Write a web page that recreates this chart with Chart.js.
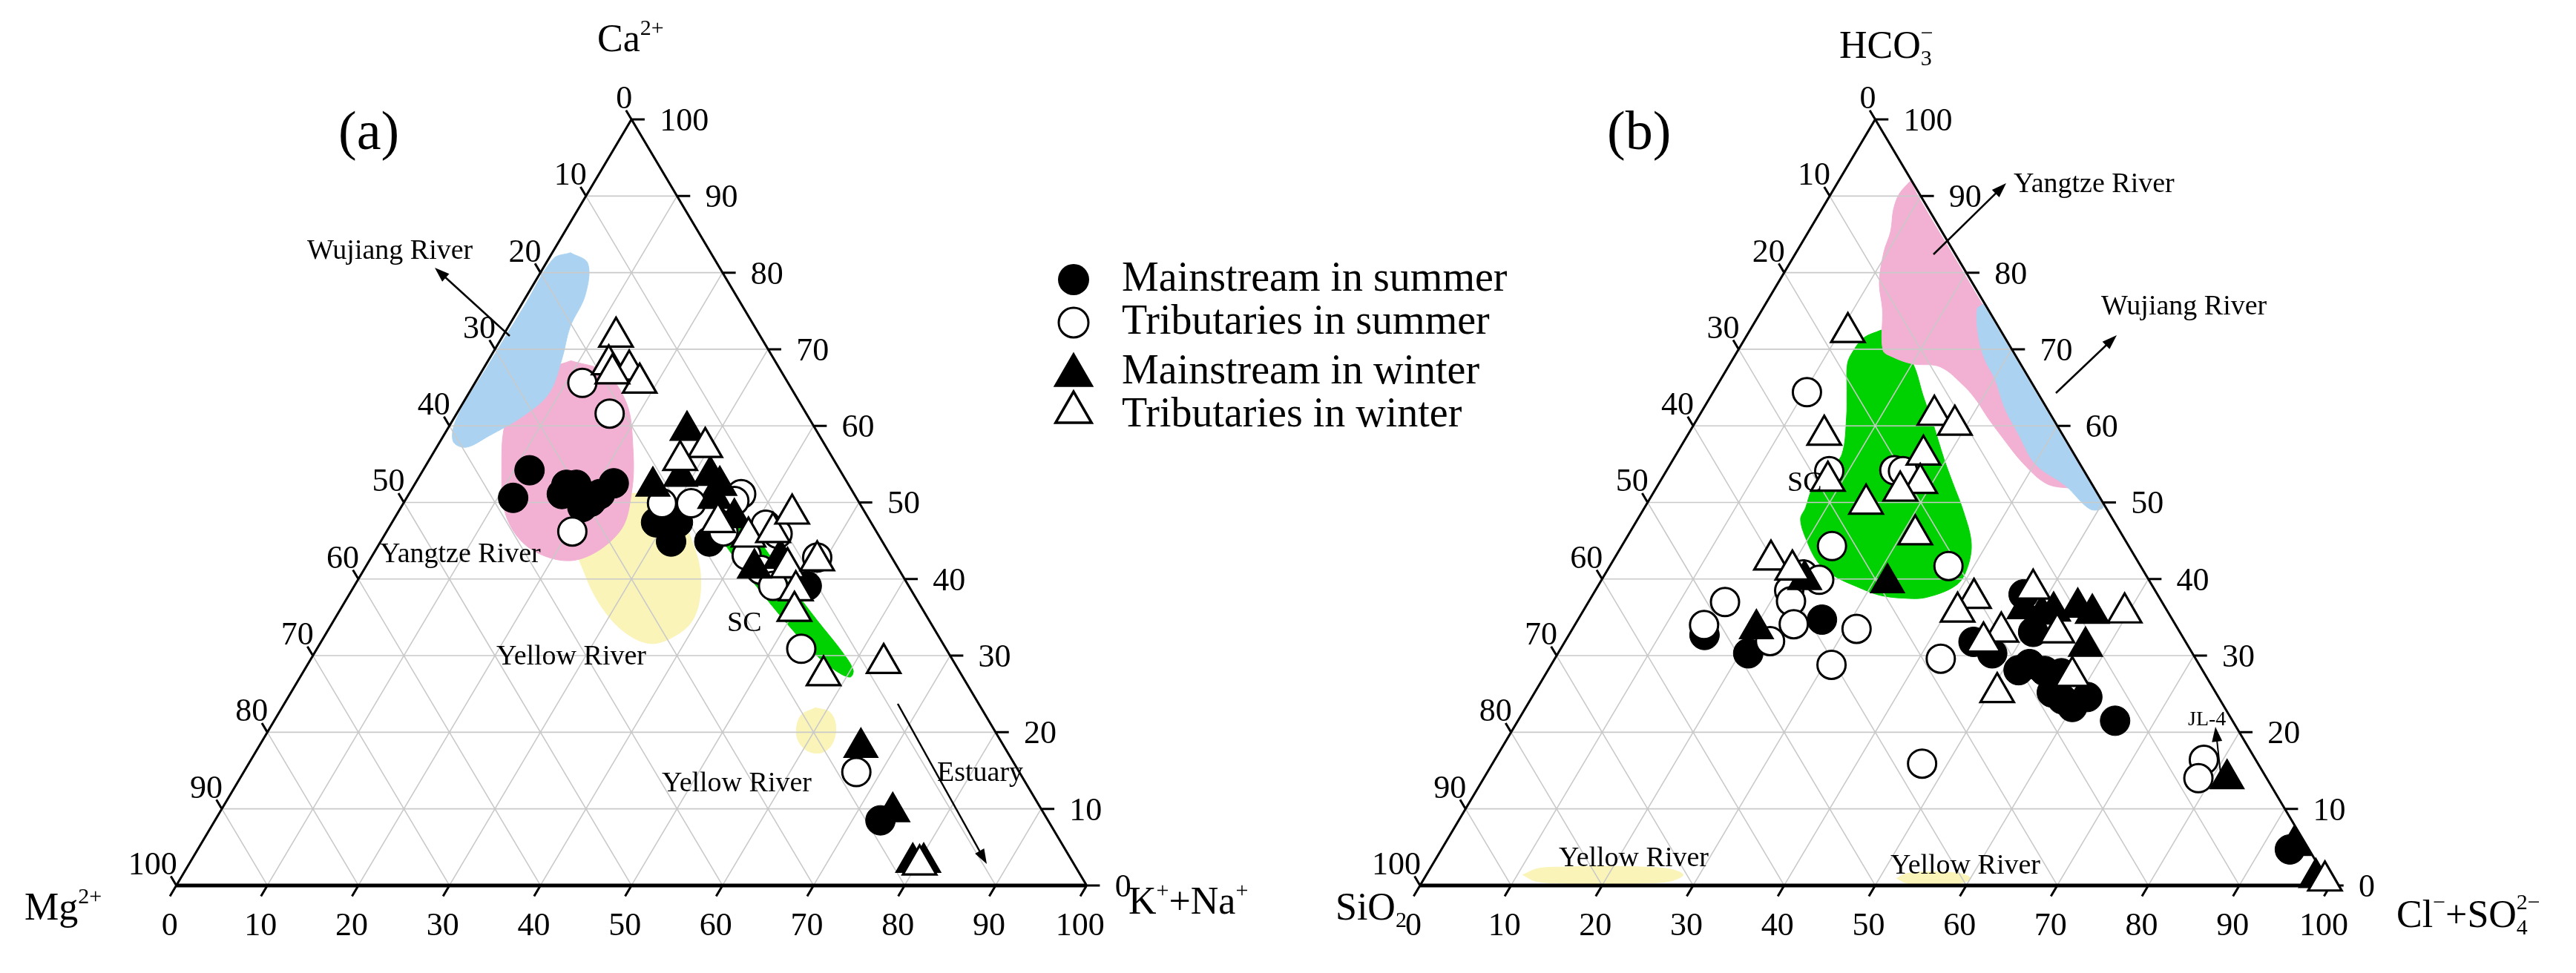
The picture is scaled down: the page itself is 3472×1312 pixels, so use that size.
<!DOCTYPE html>
<html><head><meta charset="utf-8">
<script src="https://cdn.jsdelivr.net/npm/chart.js@4.4.1/dist/chart.umd.min.js"></script>
<style>html,body{margin:0;padding:0;background:#fff;}canvas{display:block;}</style>
</head><body>
<canvas id="c" width="3472" height="1312"></canvas>
<script>
// ---------- DATA (ternary percentages) ----------
// Panel (a): [K+Na %, Ca %]  (Mg % = 100 - both)
const aMainSummer = [[11.7,54.2],[11.7,50.6],[16.7,52.3],[17.8,52.3],[16.8,51.1],[19.9,49.4],[20.7,50.8],[21.8,52.5],[21.0,51.1],[20.5,50.1],[29.0,47.4],[31.4,47.4],[31.9,44.9],[36.1,44.9],[49.7,39.1],[73.1,8.5]];
const aTribSummer = [[11.8,65.6],[16.8,61.6],[20.4,46.2],[28.4,49.9],[31.6,49.9],[36.5,51.1],[36.2,50.2],[37.0,46.2],[41.2,47.1],[43.1,45.9],[41.1,43.1],[43.6,41.2],[46.0,39.1],[49.0,42.8],[53.2,30.9],[67.3,14.8]];
const aMainWinter = [[26.4,59.4],[26.3,52.1],[28.7,53.4],[31.9,53.5],[33.6,52.2],[33.9,50.5],[37.3,48.0],[42.8,41.4],[45.0,42.7],[66.2,18.0],[73.9,9.6],[79.4,3.0],[80.6,3.0]];
const aTribWinter = [[12.5,71.6],[13.5,68.0],[16.1,67.3],[18.1,65.6],[14.5,66.8],[29.5,57.2],[27.6,55.5],[35.8,47.4],[40.1,45.5],[42.5,46.1],[43.4,48.5],[46.4,41.5],[49.2,42.4],[48.8,38.5],[50.0,35.8],[57.4,27.4],[63.2,29.0],[80.3,2.7]];
// Panel (b): [Cl+SO4 %, HCO3 %]  (SiO2 % = 100 - both)
const bMainSummer = [[14.9,32.7],[20.9,30.3],[26.8,34.7],[47.3,38.0],[50.8,33.1],[44.9,31.8],[47.7,30.3],[51.7,28.1],[52.5,28.9],[54.6,28.0],[56.6,27.7],[56.8,25.2],[58.4,24.3],[60.0,23.3],[61.0,24.6],[65.6,21.5],[93.2,4.7]];
const bTribSummer = [[10.3,64.4],[17.9,54.1],[25.0,54.2],[26.0,54.1],[23.1,44.3],[37.2,41.7],[21.8,40.6],[23.9,39.9],[21.3,38.5],[22.2,37.1],[15.0,37.0],[14.2,34.0],[22.5,31.9],[24.0,34.1],[31.2,33.5],[30.8,28.8],[42.4,29.6],[47.2,15.9],[77.9,16.4],[78.5,14.0]];
const bMainWinter = [[31.6,39.5],[22.3,39.9],[20.2,33.5],[48.3,36.1],[50.6,35.4],[51.7,35.8],[54.1,36.3],[56.1,35.5],[57.5,31.2],[81.7,13.9],[93.4,5.2],[97.9,1.0]];
const bTribWinter = [[10.9,72.2],[15.0,58.8],[18.4,52.8],[25.8,61.4],[28.7,60.1],[27.2,56.2],[28.7,52.5],[27.0,51.5],[24.1,49.8],[31.5,45.8],[17.3,42.5],[20.3,41.2],[42.1,37.5],[41.2,35.7],[48.0,38.7],[59.6,35.6],[53.5,33.0],[47.3,33.1],[46.0,31.8],[58.0,27.3],[50.8,25.2],[99.1,0.6]];

// Reference-field outlines (same ternary units)
const aWujiang = [[2.0,82.6],[4.6,81.2],[6.4,77.0],[6.8,72.9],[8.0,68.7],[8.8,64.2],[7.4,61.2],[5.0,58.7],[3.2,57.2],[1.4,58.0],[0.3,61.0],[0.3,67.9],[0.4,75.8],[0.5,81.8]];
const aYangtze = [[9.1,68.5],[13.6,67.0],[18.1,62.8],[21.5,57.3],[24.2,51.7],[25.6,46.2],[22.7,42.5],[17.2,43.8],[12.3,48.0],[8.5,54.5],[5.8,61.0],[5.9,66.5]];
const aYellow1 = [[21.9,48.9],[24.7,51.2],[30.3,48.9],[35.4,43.4],[38.2,38.8],[39.4,34.6],[38.2,32.3],[36.1,31.6],[32.5,33.2],[28.5,36.4],[24.6,40.6],[21.3,45.2]];
const aYellow2 = [[58.6,23.2],[60.5,22.6],[62.1,20.7],[62.8,18.4],[62.1,17.3],[60.3,17.7],[58.4,19.5],[57.5,22.1]];
const aSC = [[34.7,48.9],[36.7,48.9],[41.3,45.2],[47.3,39.7],[53.1,34.6],[58.0,30.4],[60.3,28.1],[60.4,27.2],[58.3,28.1],[54.8,30.4],[50.1,34.1],[44.5,38.8],[38.8,43.8],[36.0,46.6]];
const bYangtze = [[7.9,92.0],[7.5,90.3],[7.9,88.2],[9.0,85.4],[9.6,82.7],[11.1,78.7],[13.2,75.2],[15.9,69.9],[17.4,69.0],[20.0,68.1],[23.3,67.7],[27.3,65.1],[29.6,63.2],[31.8,61.1],[34.6,58.6],[38.7,55.1],[42.5,52.5],[45.2,51.9],[47.6,52.0],[39.7,60.0],[29.7,70.0],[19.7,80.0],[9.7,90.0]];
const bWujiang = [[23.9,75.9],[23.6,75.2],[25.5,71.7],[27.6,68.8],[30.2,66.0],[33.0,62.4],[36.3,58.9],[40.1,55.0],[44.8,52.2],[49.1,49.1],[50.3,49.5],[44.8,55.0],[37.8,62.0],[29.8,70.0]];
const bSC = [[14.4,72.5],[13.0,71.5],[12.7,69.8],[12.9,68.1],[14.6,64.6],[16.3,61.1],[18.2,56.3],[17.8,54.2],[17.2,51.8],[17.7,49.3],[17.9,47.8],[19.9,45.1],[22.6,42.2],[25.3,40.4],[28.5,39.0],[31.5,37.9],[34.4,37.5],[36.8,37.6],[39.3,39.2],[39.4,41.4],[38.2,44.7],[35.3,48.8],[32.2,52.6],[29.7,55.7],[26.5,59.9],[23.4,63.8],[20.1,68.1],[16.7,71.2]];
const bYellow1 = [[10.6,1.39],[11.9,2.22],[15.1,2.41],[18.9,2.5],[23.1,2.41],[26.4,2.13],[28.2,1.39],[27.2,0.56],[24.1,0.28],[20.0,0.19],[15.7,0.28],[12.4,0.56]];
const bYellow2 = [[51.9,0.93],[52.7,1.57],[55.5,1.76],[58.5,1.57],[60.0,0.93],[59.2,0.28],[56.4,0.09],[53.4,0.28]];

const tickVals = [0,10,20,30,40,50,60,70,80,90,100];
const seriesNames = ['Mainstream in summer','Tributaries in summer','Mainstream in winter','Tributaries in winter'];

// ---------- helpers ----------
const toXY = ([b, r]) => ({x: b + r / 2, y: r});
const closed = pts => pts.concat([pts[0]]).map(toXY);

function gridData() {
  const d = [];
  const seg = (p, q) => { d.push(toXY(p), toXY(q), {x: 0, y: null}); };
  for (let v = 10; v <= 90; v += 10) {
    seg([0, v], [100 - v, v]);
    seg([v, 0], [v, 100 - v]);
    seg([100 - v, 0], [0, 100 - v]);
  }
  return d;
}
function frameData() {
  const d = [[0, 0], [0, 100], [100, 0]].map(toXY);
  d.push({x: 0, y: null});
  const seg = (p, q) => { d.push(toXY(p), toXY(q), {x: 0, y: null}); };
  tickVals.forEach(v => {
    seg([100 - v, v], [100 - v + 1.45, v]);
    seg([0, 100 - v], [-1.2, 100 - v + 1.2]);
    seg([v, 0], [v, -1.4]);
  });
  return d;
}
function baseData() { return [[0, 0], [100, 0]].map(toXY); }

const L_A = 212, L_B = 1917, W = 1248, BASE = 1219, H = 1081, CW = 3472, CH = 1312;

function panelDatasets(ax, regions, series) {
  const ds = [];
  regions.forEach(([pts, color], i) => ds.push({
    data: closed(pts), xAxisID: ax, yAxisID: 'y', showLine: true, fill: 'shape',
    backgroundColor: color, borderColor: color, borderWidth: 1, pointRadius: 0, tension: 0.35, order: 30 - i
  }));
  ds.push({data: gridData(), xAxisID: ax, yAxisID: 'y', showLine: true, borderColor: '#c9c9c9', borderWidth: 1.6, pointRadius: 0, fill: false, order: 8});
  ds.push({data: frameData(), xAxisID: ax, yAxisID: 'y', showLine: true, borderColor: '#000', borderWidth: 3, pointRadius: 0, fill: false, order: 7});
  ds.push({data: baseData(), xAxisID: ax, yAxisID: 'y', showLine: true, borderColor: '#000', borderWidth: 5, pointRadius: 0, fill: false, order: 7});
  const st = [
    {pointStyle: 'circle', radius: 20, bg: '#000', bw: 1, order: 3},
    {pointStyle: 'circle', radius: 19, bg: '#fff', bw: 3, order: 2},
    {pointStyle: 'triangle', radius: 26, bg: '#000', bw: 2, order: 1},
    {pointStyle: 'triangle', radius: 26, bg: '#fff', bw: 3.2, order: 0}
  ];
  series.forEach((s, i) => ds.push({
    label: seriesNames[i], data: s.map(toXY), xAxisID: ax, yAxisID: 'y', showLine: false,
    pointStyle: st[i].pointStyle, pointRadius: st[i].radius, pointHoverRadius: st[i].radius,
    pointBackgroundColor: st[i].bg, pointBorderColor: '#000', pointBorderWidth: st[i].bw, order: st[i].order
  }));
  return ds;
}

const PINK = '#f2b0d3', BLUE = '#abd3f1', YEL = '#faf4b8', GREEN = '#00d100';
const datasets = [].concat(
  panelDatasets('xa', [[aYellow1, YEL], [aYangtze, PINK], [aWujiang, BLUE], [aYellow2, YEL], [aSC, GREEN]],
    [aMainSummer, aTribSummer, aMainWinter, aTribWinter]),
  panelDatasets('xb', [[bSC, GREEN], [bYangtze, PINK], [bWujiang, BLUE], [bYellow1, YEL], [bYellow2, YEL]],
    [bMainSummer, bTribSummer, bMainWinter, bTribWinter])
);

// ---------- text / annotation plugin ----------
const SERIF = '"Liberation Serif", "Times New Roman", serif';
function rich(ctx, x, y, parts) {
  let cx = x;
  parts.forEach(p => {
    ctx.font = p.s + 'px ' + SERIF;
    ctx.fillText(p.t, cx, y + (p.dy || 0));
    if (!p.noAdv) cx += ctx.measureText(p.t).width;
  });
}
function arrow(ctx, x1, y1, x2, y2) {
  const a = Math.atan2(y2 - y1, x2 - x1), hl = 20, hw = 7;
  ctx.beginPath(); ctx.moveTo(x1, y1);
  ctx.lineTo(x2 - Math.cos(a) * hl * 0.8, y2 - Math.sin(a) * hl * 0.8); ctx.stroke();
  ctx.beginPath(); ctx.moveTo(x2, y2);
  ctx.lineTo(x2 - Math.cos(a) * hl + Math.sin(a) * hw, y2 - Math.sin(a) * hl - Math.cos(a) * hw);
  ctx.lineTo(x2 - Math.cos(a) * hl - Math.sin(a) * hw, y2 - Math.sin(a) * hl + Math.cos(a) * hw);
  ctx.closePath(); ctx.fill();
}

const textPlugin = {
  id: 'ternaryText',
  afterDatasetsDraw(chart) {
    const ctx = chart.ctx, ys = chart.scales.y;
    ctx.save();
    ctx.fillStyle = '#000'; ctx.strokeStyle = '#000';
    ['xa', 'xb'].forEach(ax => {
      const xs = chart.scales[ax];
      const P = (b, r) => [xs.getPixelForValue(b + r / 2), ys.getPixelForValue(r)];
      ctx.font = '44px ' + SERIF;
      ctx.textBaseline = 'alphabetic';
      ctx.textAlign = 'left';
      tickVals.forEach(v => { const [px, py] = P(100 - v, v); ctx.fillText(String(v), px + 38, py + 15); });
      ctx.textAlign = 'right';
      tickVals.forEach(m => { const [px, py] = P(0, 100 - m); ctx.fillText(String(m), px + 1, py - 15); });
      ctx.textAlign = 'center';
      tickVals.forEach(k => { const [px, py] = P(k, 0); ctx.fillText(String(k), px - 9, py + 67); });
    });
    ctx.textAlign = 'left';
    // panel letters
    ctx.font = '74px ' + SERIF;
    ctx.fillText('(a)', 456, 201);
    ctx.fillText('(b)', 2166, 201);
    // axis titles
    rich(ctx, 805, 69, [{t: 'Ca', s: 52}, {t: '2+', s: 30, dy: -22}]);
    rich(ctx, 33, 1240, [{t: 'Mg', s: 52}, {t: '2+', s: 30, dy: -22}]);
    rich(ctx, 1521, 1232, [{t: 'K', s: 52}, {t: '+', s: 30, dy: -22}, {t: '+Na', s: 52}, {t: '+', s: 30, dy: -22}]);
    rich(ctx, 2479, 78, [{t: 'HCO', s: 52}, {t: '3', s: 30, dy: 10, noAdv: true}, {t: '\u2212', s: 30, dy: -24}]);
    rich(ctx, 1800, 1240, [{t: 'SiO', s: 52}, {t: '2', s: 30, dy: 10}]);
    rich(ctx, 3230, 1250, [{t: 'Cl', s: 52}, {t: '\u2212', s: 30, dy: -24}, {t: '+SO', s: 52}, {t: '4', s: 30, dy: 10, noAdv: true}, {t: '2\u2212', s: 30, dy: -24}]);
    // annotations
    ctx.font = '38px ' + SERIF;
    [['Wujiang River', 414, 349], ['Yangtze River', 512, 758], ['Yellow River', 669, 896], ['SC', 980, 851],
     ['Yellow River', 892, 1067], ['Estuary', 1263, 1053],
     ['Yangtze River', 2714, 259], ['Wujiang River', 2832, 424], ['SC', 2409, 662],
     ['Yellow River', 2101, 1168], ['Yellow River', 2548, 1178]].forEach(([t, x, y]) => ctx.fillText(t, x, y));
    ctx.font = '28px ' + SERIF;
    ctx.fillText('JL-4', 2949, 978);
    ctx.lineWidth = 2.5;
    arrow(ctx, 687, 453, 586, 361);
    arrow(ctx, 1210, 949, 1330, 1165);
    arrow(ctx, 2606, 343, 2704, 247);
    arrow(ctx, 2771, 530, 2853, 452);
    ctx.lineWidth = 2;
    arrow(ctx, 2993, 1043, 2986, 980);
    // legend
    const lx = 1447;
    ctx.fillStyle = '#000';
    ctx.beginPath(); ctx.arc(lx, 377, 21, 0, Math.PI * 2); ctx.fill();
    ctx.lineWidth = 3;
    ctx.beginPath(); ctx.arc(lx, 435, 20, 0, Math.PI * 2); ctx.fillStyle = '#fff'; ctx.fill(); ctx.stroke();
    const tri = (cy, filled) => {
      const r = 28;
      ctx.beginPath();
      ctx.moveTo(lx, cy - r);
      ctx.lineTo(lx + r * Math.sin(2 * Math.PI / 3), cy + r / 2);
      ctx.lineTo(lx - r * Math.sin(2 * Math.PI / 3), cy + r / 2);
      ctx.closePath();
      ctx.fillStyle = filled ? '#000' : '#fff'; ctx.fill();
      ctx.lineWidth = 3.5; ctx.stroke();
    };
    tri(506, true); tri(556, false);
    ctx.fillStyle = '#000';
    ctx.font = '56px ' + SERIF;
    [[seriesNames[0], 392], [seriesNames[1], 450], [seriesNames[2], 517], [seriesNames[3], 575]]
      .forEach(([t, y]) => ctx.fillText(t, 1512, y));
    ctx.restore();
  }
};

new Chart(document.getElementById('c'), {
  type: 'scatter',
  data: {datasets},
  options: {
    responsive: false, animation: false, devicePixelRatio: 1,
    layout: {padding: 0},
    plugins: {legend: {display: false}, tooltip: {enabled: false}},
    events: [],
    scales: {
      xa: {type: 'linear', display: false, min: -L_A / W * 100, max: (CW - L_A) / W * 100},
      xb: {type: 'linear', display: false, min: -L_B / W * 100, max: (CW - L_B) / W * 100},
      y: {type: 'linear', display: false, min: -(CH - BASE) / H * 100, max: BASE / H * 100}
    }
  },
  plugins: [textPlugin]
});
</script>
</body></html>
